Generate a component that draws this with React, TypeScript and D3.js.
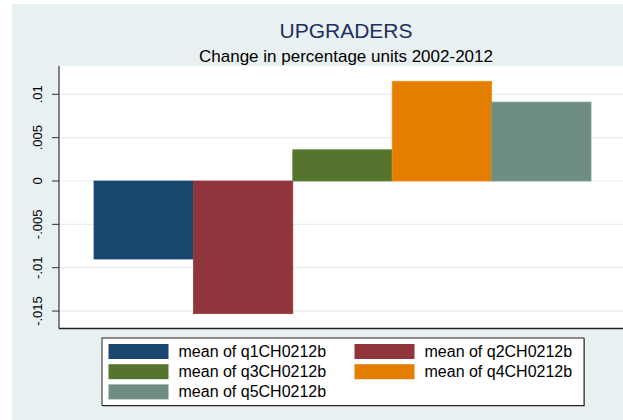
import * as d3 from 'd3';
import React from 'react';

// data
const seriesNames = ['q1CH0212b', 'q2CH0212b', 'q3CH0212b', 'q4CH0212b', 'q5CH0212b'];
const seriesValues = [-0.009, -0.0153, 0.0036, 0.0115, 0.0091];
const seriesColors = ['#1a476f', '#90353b', '#55752f', '#e37e00', '#6e8e84'];
const yTickValues = [-0.015, -0.01, -0.005, 0, 0.005, 0.01];
const yTickLabels = ['-.015', '-.01', '-.005', '0', '.005', '.01'];

const W = 623;
const H = 420;
const FONT = '"Liberation Sans", Arial, sans-serif';

const App = () => {
  // plot region
  const plot = { left: 59, right: 623, top: 66, bottom: 328.5 };

  const yScale = d3.scaleLinear().domain([-0.017013, 0.013264]).range([plot.bottom, plot.top]);
  const xScale = d3.scaleBand<string>().domain(seriesNames).range([94, 591]).padding(0);

  const bars = seriesNames.map((name, i) => {
    const v = seriesValues[i];
    const y0 = yScale(0);
    const y1 = yScale(v);
    return (
      <rect
        key={name}
        x={xScale(name)}
        width={xScale.bandwidth()}
        y={Math.min(y0, y1)}
        height={Math.abs(y1 - y0)}
        fill={seriesColors[i]}
        stroke={d3.color(seriesColors[i])!.brighter(0.3).formatHex()}
        strokeWidth={0.8}
      />
    );
  });

  // legend
  const legend = { x: 102, y: 338, w: 482, h: 67.5 };

  return (
    <div style={{ position: 'absolute', left: 0, top: 0 }}>
      <svg width={W} height={H} style={{ display: 'block', fontFamily: FONT }}>
        <rect x={0} y={0} width={W} height={H} fill="#ffffff" />
        <rect x={12} y={4} width={W - 12} height={H - 4} fill="#e8f0f2" />
        <rect
          x={plot.left}
          y={plot.top}
          width={plot.right - plot.left}
          height={plot.bottom - plot.top}
          fill="#ffffff"
        />
        {/* gridlines */}
        {yTickValues.map((t) => (
          <line
            key={t}
            x1={plot.left}
            x2={plot.right}
            y1={yScale(t)}
            y2={yScale(t)}
            stroke="#e6eef0"
            strokeWidth={1.2}
          />
        ))}
        {bars}
        {/* y axis */}
        <line x1={plot.left} x2={plot.left} y1={plot.top} y2={plot.bottom} stroke="#333" strokeWidth={1.2} />
        {yTickValues.map((t, i) => (
          <g key={t} transform={`translate(0,${yScale(t)})`}>
            <line x1={plot.left - 7} x2={plot.left} stroke="#333" strokeWidth={1} />
            <text
              transform="translate(42,0) rotate(-90)"
              textAnchor="middle"
              fontSize={13}
              fill="#000"
            >
              {yTickLabels[i]}
            </text>
          </g>
        ))}
        {/* x axis line */}
        <line x1={plot.left} x2={plot.right} y1={plot.bottom} y2={plot.bottom} stroke="#222" strokeWidth={1.5} />
        {/* titles */}
        <text x={346} y={38} textAnchor="middle" fontSize={21} fill="#1e2f5e">
          UPGRADERS
        </text>
        <text x={346} y={62} textAnchor="middle" fontSize={17} fill="#000">
          Change in percentage units 2002-2012
        </text>
        {/* legend */}
        <rect x={legend.x + 1} y={legend.y + 1} width={legend.w} height={legend.h} fill="#888" />
        <rect
          x={legend.x}
          y={legend.y}
          width={legend.w}
          height={legend.h}
          fill="#ffffff"
          stroke="#222"
          strokeWidth={1}
        />
        {seriesNames.map((name, i) => {
          const col = i % 2;
          const row = Math.floor(i / 2);
          const sx = 108.5 + col * 246;
          const sy = 344 + row * 20.2;
          return (
            <g key={name}>
              <rect x={sx} y={sy} width={60} height={15} fill={seriesColors[i]} />
              <text x={sx + 70} y={sy + 13} fontSize={16} fill="#000">
                {`mean of ${name}`}
              </text>
            </g>
          );
        })}
      </svg>
    </div>
  );
};

export default App;
